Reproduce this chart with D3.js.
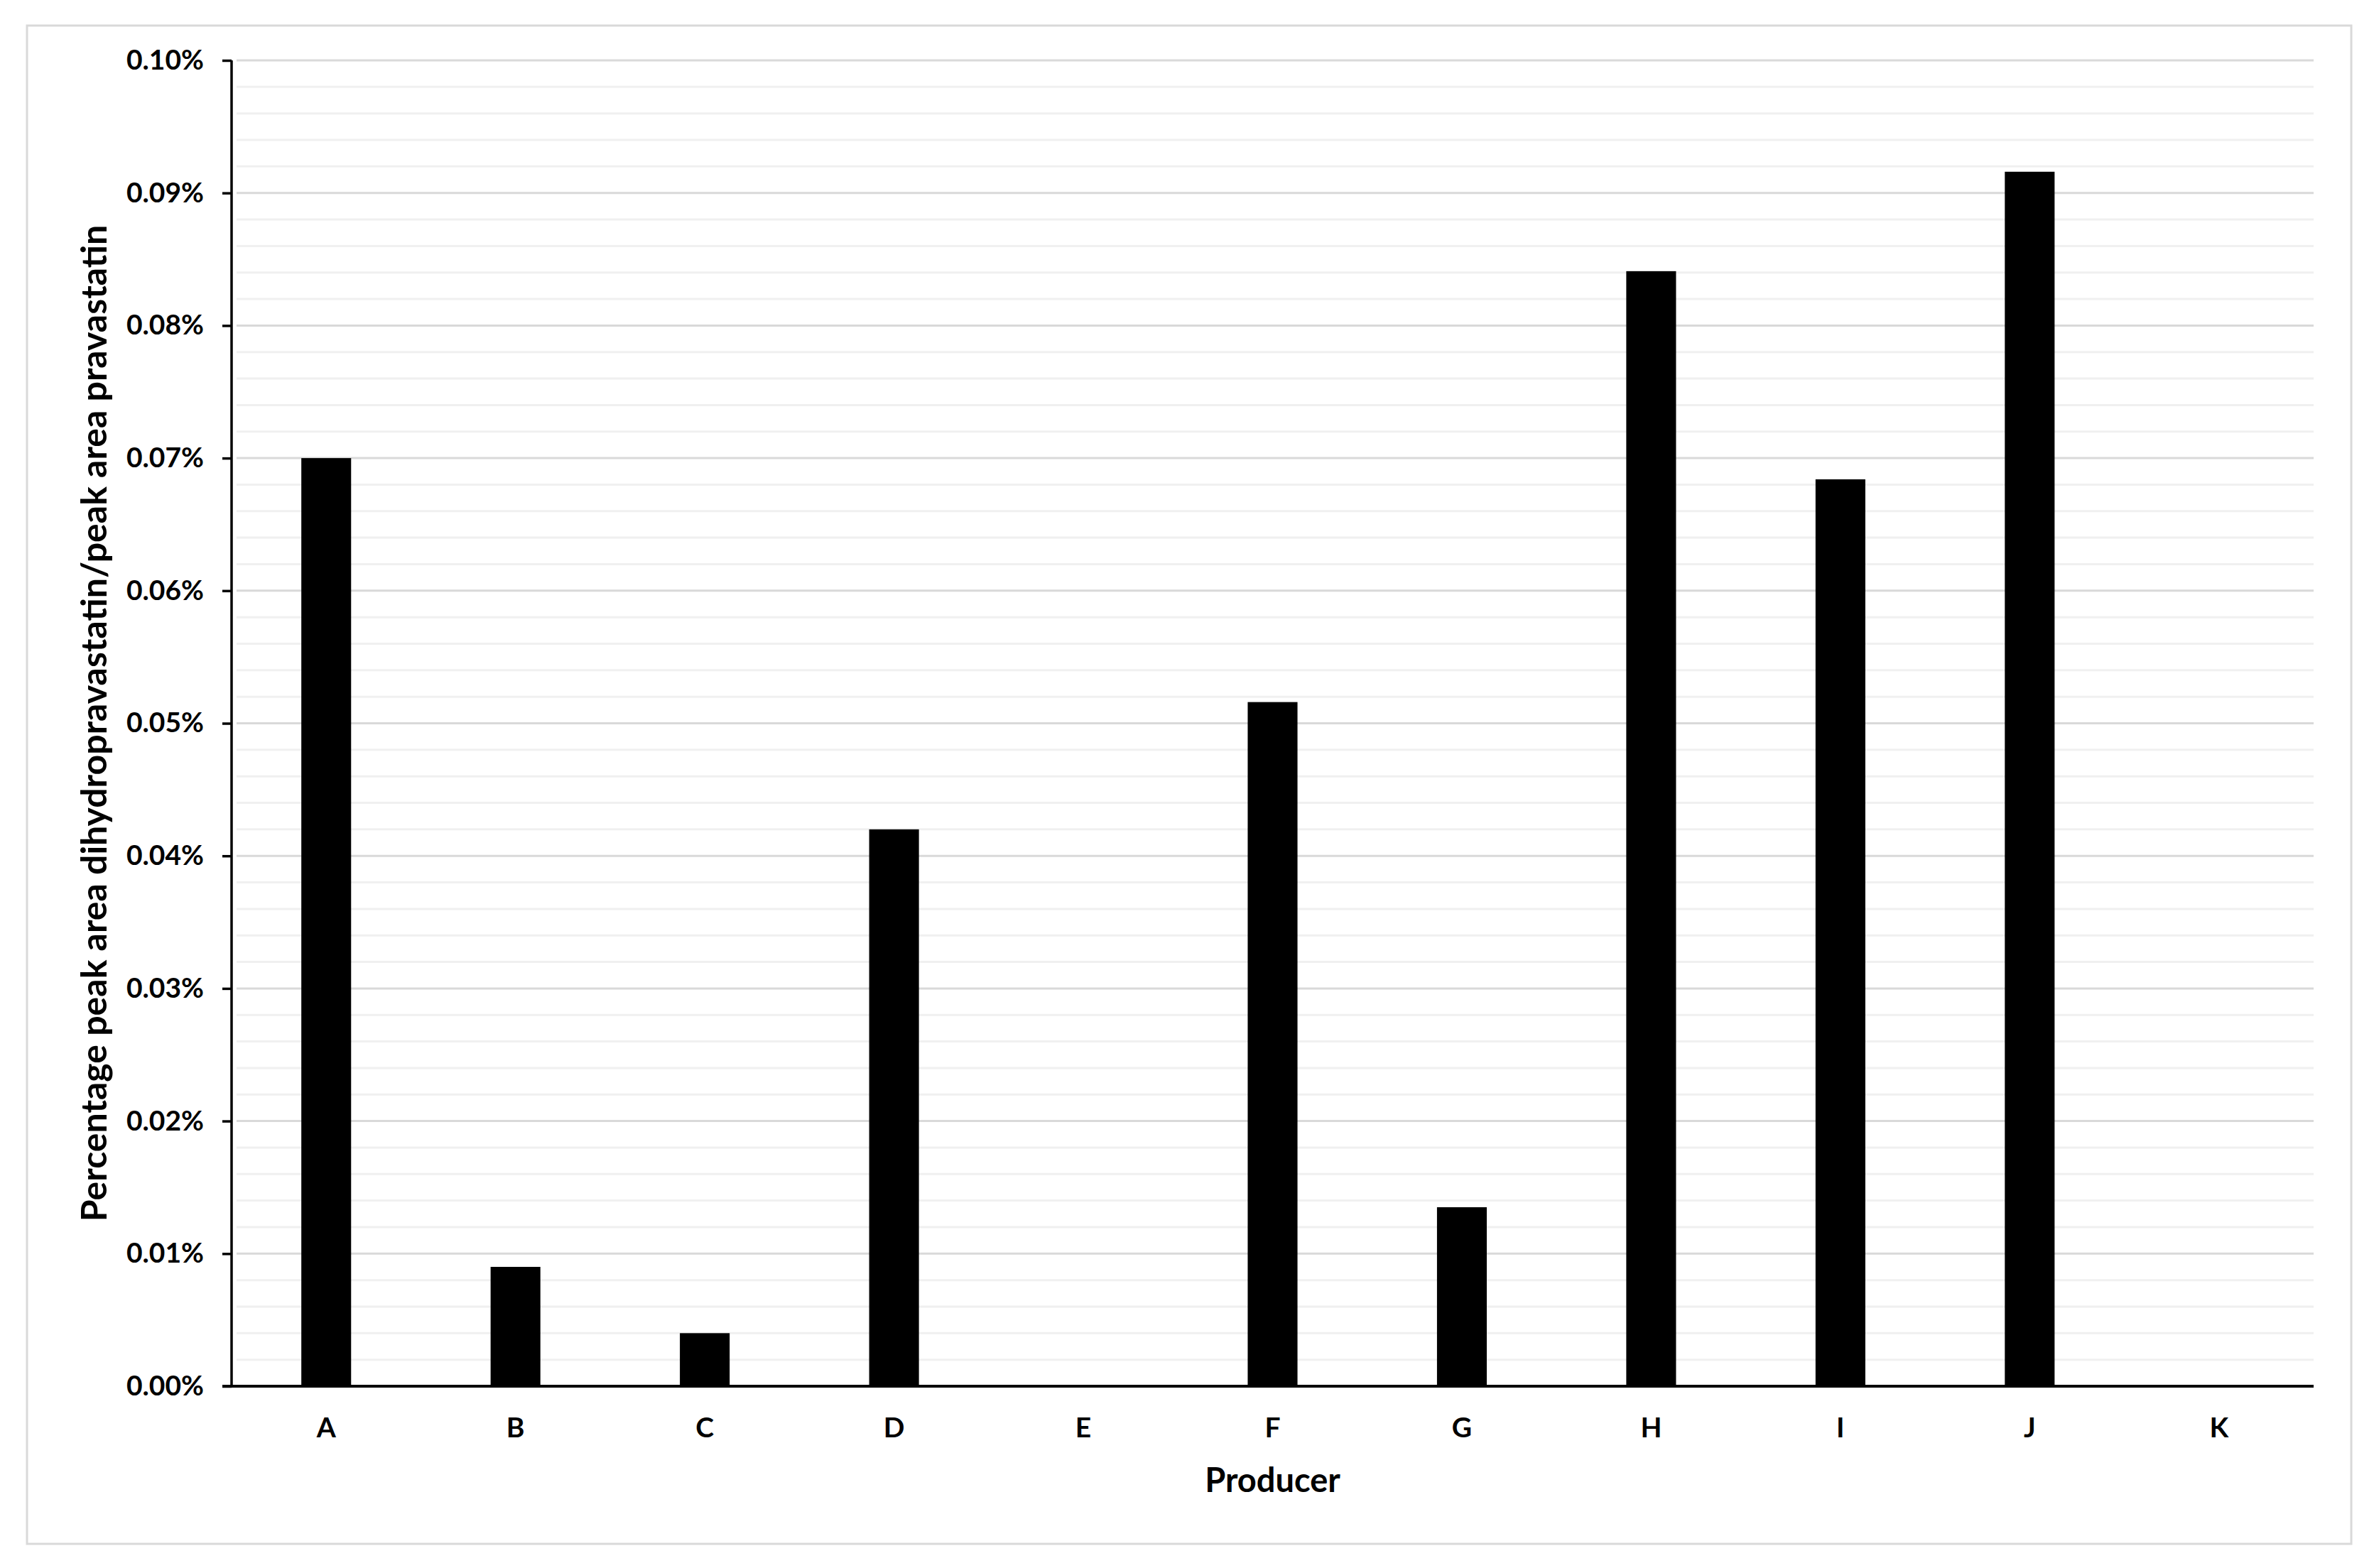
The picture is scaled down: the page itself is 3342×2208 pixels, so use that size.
<!DOCTYPE html>
<html>
<head>
<meta charset="utf-8">
<script src="https://cdn.jsdelivr.net/npm/d3@7"></script>
<style>
  body { margin: 0; background: #fff; }
  svg { display: block; font-family: Lato, "Open Sans", sans-serif; font-weight: bold; }
</style>
</head>
<body>
<div id="chart"></div>
<script>
// data (values in %)
const producers = ["A", "B", "C", "D", "E", "F", "G", "H", "I", "J", "K"];
const ratios = [0.0700, 0.0090, 0.0040, 0.0420, 0, 0.0516, 0.0135, 0.0841, 0.0684, 0.0916, 0];
const yMajorTicks = [0, 0.01, 0.02, 0.03, 0.04, 0.05, 0.06, 0.07, 0.08, 0.09, 0.10];
const yMinorStep = 0.002;

const width = 3342;
const height = 2208;
const margin = { top: 85, right: 85, bottom: 256, left: 326 };

const svg = d3.select("#chart")
  .append("svg")
  .attr("width", width)
  .attr("height", height)
  .attr("viewBox", [0, 0, width, height]);

svg.append("rect")
  .attr("width", width)
  .attr("height", height)
  .attr("fill", "#fff");

// outer chart border
svg.append("rect")
  .attr("x", 38)
  .attr("y", 36)
  .attr("width", 3272)
  .attr("height", 2138)
  .attr("fill", "none")
  .attr("stroke", "#d9d9d9")
  .attr("stroke-width", 3);

const x = d3.scaleBand()
  .domain(producers)
  .range([margin.left, width - margin.right])
  .paddingInner(0.737)
  .paddingOuter(0.3685);

const y = d3.scaleLinear()
  .domain([0, 0.10])
  .range([height - margin.bottom, margin.top]);

// minor gridlines
const minorTicks = d3.range(0, 0.1 + 1e-9, yMinorStep)
  .filter((v) => Math.abs(v * 100 - Math.round(v * 100)) > 1e-6);

svg.append("g")
  .attr("class", "minor-grid")
  .selectAll("line")
  .data(minorTicks)
  .join("line")
  .attr("x1", margin.left + 7)
  .attr("x2", width - margin.right)
  .attr("y1", (d) => y(d))
  .attr("y2", (d) => y(d))
  .attr("stroke", "#f0f0f0")
  .attr("stroke-width", 3);

// major gridlines
svg.append("g")
  .attr("class", "major-grid")
  .selectAll("line")
  .data(yMajorTicks.slice(1))
  .join("line")
  .attr("x1", margin.left + 7)
  .attr("x2", width - margin.right)
  .attr("y1", (d) => y(d))
  .attr("y2", (d) => y(d))
  .attr("stroke", "#d9d9d9")
  .attr("stroke-width", 3);

// bars
svg.append("g")
  .attr("class", "bars")
  .selectAll("rect")
  .data(producers.map((p, i) => ({ p, v: ratios[i] })))
  .join("rect")
  .attr("x", (d) => x(d.p))
  .attr("width", x.bandwidth())
  .attr("y", (d) => y(d.v))
  .attr("height", (d) => y(0) - y(d.v))
  .attr("fill", "#000");

// y axis
svg.append("g")
  .attr("transform", `translate(${margin.left},0)`)
  .call(
    d3.axisLeft(y)
      .tickValues(yMajorTicks)
      .tickSize(13)
      .tickPadding(26)
      .tickFormat((d) => d3.format(".2f")(d) + "%")
  )
  .call((g) => g.select(".domain").attr("stroke", "#000").attr("stroke-width", 3.5).attr("d", `M0,${y(0.1)}V${y(0)}`))
  .call((g) => g.selectAll(".tick line").attr("stroke", "#000").attr("stroke-width", 3.5))
  .call((g) => g.selectAll(".tick text")
    .attr("fill", "#000")
    .attr("font-size", 39)
    .attr("font-family", "Lato, sans-serif")
    .attr("font-weight", "bold"));

// x axis
svg.append("g")
  .attr("transform", `translate(0,${y(0)})`)
  .call(d3.axisBottom(x).tickSize(0).tickPadding(44))
  .call((g) => g.select(".domain").attr("stroke", "#000").attr("stroke-width", 4).attr("d", `M${margin.left - 13},0H${width - margin.right}`))
  .call((g) => g.selectAll(".tick text")
    .attr("fill", "#000")
    .attr("font-size", 39)
    .attr("font-family", "Lato, sans-serif")
    .attr("font-weight", "bold"));

// axis titles
svg.append("text")
  .attr("x", (margin.left + width - margin.right) / 2)
  .attr("y", 2101)
  .attr("text-anchor", "middle")
  .attr("font-size", 47)
  .text("Producer");

svg.append("text")
  .attr("transform", `translate(150,${(y(0) + y(0.1)) / 2}) rotate(-90)`)
  .attr("text-anchor", "middle")
  .attr("font-size", 50)
  .text("Percentage peak area dihydropravastatin/peak area pravastatin");
</script>
</body>
</html>
